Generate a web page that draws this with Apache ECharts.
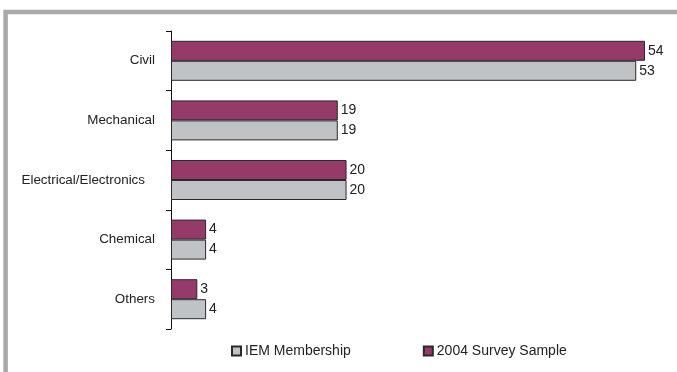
<!DOCTYPE html>
<html>
<head>
<meta charset="utf-8">
<style>
  html, body { margin: 0; padding: 0; background: #ffffff; }
  #chart { width: 677px; height: 372px; }
</style>
<script src="https://cdn.jsdelivr.net/npm/echarts@6/dist/echarts.min.js"></script>
</head>
<body>
<div id="chart"></div>
<script>
// Engineering disciplines, top to bottom
const categories = ['Civil', 'Mechanical', 'Electrical/Electronics', 'Chemical', 'Others'];
// Share (%) of each discipline
const surveySample = [54, 19, 20, 4, 3];
const iemMembership = [53, 19, 20, 4, 4];
const seriesNames = ['2004 Survey Sample', 'IEM Membership'];

const FONT = '"Liberation Sans", Arial, sans-serif';
const chart = echarts.init(document.getElementById('chart'), null, { renderer: 'canvas' });

const labelStyle = {
  show: true,
  position: 'right',
  distance: 3,
  color: '#222',
  fontSize: 14,
  fontFamily: FONT
};

chart.setOption({
  backgroundColor: '#ffffff',
  animation: false,
  graphic: [{
    type: 'rect',
    shape: { x: 5.6, y: 12, width: 720, height: 420 },
    style: { fill: 'none', stroke: '#a9a9a9', lineWidth: 4.5 },
    silent: true,
    z: 0
  }],
  grid: { left: 171, right: 32, top: 31, bottom: 43, containLabel: false, outerBoundsMode: 'none' },
  xAxis: {
    type: 'value',
    min: 0,
    max: 54,
    show: false
  },
  yAxis: {
    type: 'category',
    data: categories,
    inverse: true,
    axisLine: { show: true, lineStyle: { color: '#111', width: 1 } },
    axisTick: { show: true, length: 5, lineStyle: { color: '#111', width: 1 } },
    axisLabel: {
      margin: 16,
      color: '#222',
      fontSize: 13.4,
      fontFamily: FONT,
      formatter: function (v) {
        return v === 'Electrical/Electronics' ? '{pad|' + v + '}' : v;
      },
      rich: { pad: { padding: [0, 10, 0, 0], fontSize: 13.4, fontFamily: FONT, color: '#222' } }
    },
    splitLine: { show: false }
  },
  legend: {
    bottom: 9,
    left: 226,
    itemGap: 72,
    itemWidth: 9,
    itemHeight: 9,
    icon: 'rect',
    data: [seriesNames[1], seriesNames[0]],
    textStyle: { color: '#222', fontSize: 14, fontFamily: FONT, padding: [0, 0, 0, -1] }
  },
  series: [
    {
      name: seriesNames[0],
      type: 'bar',
      data: surveySample,
      barWidth: 20,
      barGap: '0%',
      itemStyle: { color: '#963a6a', borderColor: '#2a2a2a', borderWidth: 1 },
      label: labelStyle
    },
    {
      name: seriesNames[1],
      type: 'bar',
      data: iemMembership,
      barWidth: 20,
      barGap: '0%',
      itemStyle: { color: '#bfc3c5', borderColor: '#2a2a2a', borderWidth: 1 },
      label: labelStyle
    }
  ]
});
</script>
</body>
</html>
